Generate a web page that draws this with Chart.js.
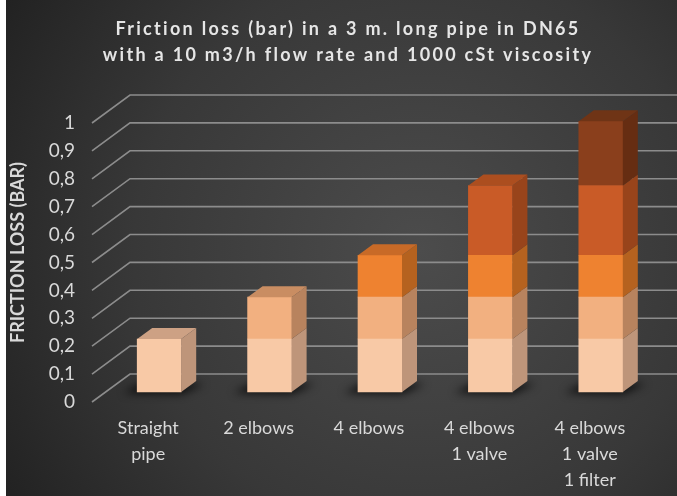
<!DOCTYPE html>
<html>
<head>
<meta charset="utf-8">
<script src="https://cdn.jsdelivr.net/npm/chart.js@4/dist/chart.umd.min.js"></script>
<style>
  html, body { margin: 0; padding: 0; background: #fff; }
  #wrap { width: 677px; height: 496px; position: relative; }
</style>
</head>
<body>
<div id="wrap"><canvas id="c"></canvas></div>
<script>
// ---- data ----
const categories = [['Straight', 'pipe'], '2 elbows', '4 elbows', ['4 elbows', '1 valve'], ['4 elbows', '1 valve', '1 filter']];
const seriesNames = ['Straight pipe', '2 elbows', '2 more elbows', '1 valve', '1 filter'];
const pipeLoss   = [0.19, 0.19, 0.19, 0.19, 0.19];
const elbowLossA = [null, 0.15, 0.15, 0.15, 0.15];
const elbowLossB = [null, null, 0.15, 0.15, 0.15];
const valveLoss  = [null, null, null, 0.25, 0.25];
const filterLoss = [null, null, null, null, 0.23];
const yTickLabels = ['0', '0,1', '0,2', '0,3', '0,4', '0,5', '0,6', '0,7', '0,8', '0,9', '1'];
const titleLines = ['Friction loss (bar) in a 3 m. long pipe in DN65', 'with a 10 m3/h flow rate and 1000 cSt viscosity'];
const yTitle = 'FRICTION LOSS (BAR)';

// ---- styles ----
const frontColors = ['#F8C9A6', '#F2B080', '#EE8230', '#C95B27', '#8A3F1C'];
const sideColors  = ['#BE957A', '#B8835E', '#B5621F', '#98441B', '#662D12'];
const topColors   = ['#CDA184', '#C98D62', '#C86A27', '#AC4E1F', '#6F3416'];
const textColor = '#D9D9D9';
const DX = 15, DY = -11;           // bar depth offset
const GRID_DX = 38, GRID_DY = -28; // wall depth offset
const WALL_FRONT_SHIFT = -12;      // front edge of the floor relative to plot left
const FLOOR_SHIFT = 10;            // bars sit this far behind the front plane

const allSeries = [pipeLoss, elbowLossA, elbowLossB, valveLoss, filterLoss];

const datasets = allSeries.map((arr, s) => ({
  label: seriesNames[s],
  data: arr,
  backgroundColor: frontColors[s],
  borderWidth: 0,
  barThickness: 44,
  clip: false
}));

const bgPlugin = {
  id: 'bg',
  afterLayout(chart) {
    // the title is centred a little to the right of the canvas centre
    if (chart.titleBlock) chart.titleBlock.left = 40;
  },
  beforeDraw(chart) {
    const ctx = chart.ctx, w = chart.width, h = chart.height;
    ctx.save();
    ctx.fillStyle = '#ffffff';
    ctx.fillRect(0, 0, w, h);
    const g = ctx.createRadialGradient(420, 250, 0, 420, 250, 520);
    g.addColorStop(0, '#4c4c4c');
    g.addColorStop(0.55, '#383838');
    g.addColorStop(1, '#1e1e1e');
    ctx.fillStyle = g;
    ctx.fillRect(6, 0, w - 6, h);
    ctx.restore();
    ctx.letterSpacing = '2.3px'; // title spacing (title is the only text drawn before datasets)
  },
  beforeDatasetsDraw(chart) {
    chart.ctx.letterSpacing = '0px';
  }
};

const wallPlugin = {
  id: 'wall',
  beforeDatasetsDraw(chart) {
    const ctx = chart.ctx, y = chart.scales.y, area = chart.chartArea;
    ctx.save();
    ctx.strokeStyle = '#8c8c8c';
    ctx.lineWidth = 1.6;
    y.ticks.forEach(t => {
      const py = y.getPixelForValue(t.value);
      const fx = area.left + WALL_FRONT_SHIFT, fy = py + FLOOR_SHIFT;
      ctx.beginPath();
      ctx.moveTo(fx, fy);
      ctx.lineTo(fx + GRID_DX, fy + GRID_DY);
      ctx.lineTo(chart.width, fy + GRID_DY);
      ctx.stroke();
    });
    // shadows under bars
    const meta = chart.getDatasetMeta(0);
    ctx.filter = 'blur(4px)';
    ctx.fillStyle = 'rgba(0,0,0,0.75)';
    meta.data.forEach(el => {
      const L = el.x - el.width / 2, R = el.x + el.width / 2, B = el.base;
      ctx.beginPath();
      ctx.moveTo(L - 14, B + 1);
      ctx.lineTo(R, B + 2);
      ctx.lineTo(R + DX + 8, B + DY + 3);
      ctx.lineTo(L + DX - 6, B + DY);
      ctx.closePath();
      ctx.fill();
    });
    ctx.restore();
  }
};

const boxPlugin = {
  id: 'box3d',
  afterDatasetsDraw(chart) {
    const ctx = chart.ctx;
    const n = chart.data.datasets.length;
    const topIndex = {};
    for (let s = 0; s < n; s++) {
      chart.data.datasets[s].data.forEach((v, i) => { if (v != null) topIndex[i] = s; });
    }
    ctx.save();
    for (let s = 0; s < n; s++) {
      chart.getDatasetMeta(s).data.forEach((el, i) => {
        if (chart.data.datasets[s].data[i] == null) return;
        const L = el.x - el.width / 2, R = el.x + el.width / 2, T = el.y, B = el.base;
        ctx.fillStyle = sideColors[s];
        ctx.beginPath();
        ctx.moveTo(R, T);
        ctx.lineTo(R + DX, T + DY);
        ctx.lineTo(R + DX, B + DY);
        ctx.lineTo(R, B);
        ctx.closePath();
        ctx.fill();
        if (topIndex[i] === s) {
          ctx.fillStyle = topColors[s];
          ctx.beginPath();
          ctx.moveTo(L, T);
          ctx.lineTo(L + DX, T + DY);
          ctx.lineTo(R + DX, T + DY);
          ctx.lineTo(R, T);
          ctx.closePath();
          ctx.fill();
        }
      });
    }
    ctx.restore();
  }
};

new Chart(document.getElementById('c'), {
  type: 'bar',
  data: { labels: categories, datasets },
  plugins: [bgPlugin, wallPlugin, boxPlugin],
  options: {
    responsive: true,
    maintainAspectRatio: false,
    animation: false,
    layout: { padding: { left: 0, right: 21, top: 0, bottom: 0 } },
    plugins: {
      legend: { display: false },
      tooltip: { enabled: false },
      title: {
        display: true,
        text: titleLines,
        color: '#E6E6E6',
        font: { family: 'Lato', size: 18, weight: 'bold', lineHeight: '26px' },
        padding: { top: 16, bottom: 45 }
      }
    },
    scales: {
      x: {
        stacked: true,
        offset: true,
        grid: { display: false, drawTicks: false, z: 1 },
        border: { display: false, z: 1 },
        ticks: {
          z: 1,
          color: textColor,
          font: { family: 'Lato', size: 18, lineHeight: '26px' },
          padding: 23,
          labelOffset: -11,
          maxRotation: 0,
          autoSkip: false
        },
        afterFit(s) { s.height = 104; }
      },
      y: {
        stacked: true,
        min: 0,
        max: 1,
        grid: { display: false, drawTicks: false, z: 1 },
        border: { display: false, z: 1 },
        ticks: {
          z: 1,
          stepSize: 0.1,
          color: textColor,
          font: { family: 'Lato', size: 19 },
          padding: 29,
          labelOffset: FLOOR_SHIFT,
          callback: (v, i) => yTickLabels[i]
        },
        title: {
          display: true,
          text: yTitle,
          color: textColor,
          font: { family: 'Lato', size: 18, weight: 'bold', lineHeight: '20px' },
          padding: { top: 8, bottom: 0 }
        },
        afterFit(s) { s.width = 104; }
      }
    }
  }
});
</script>
</body>
</html>
